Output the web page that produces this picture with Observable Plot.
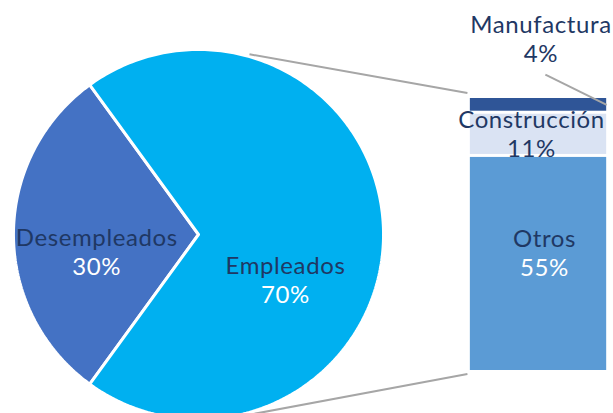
<!DOCTYPE html>
<html><head><meta charset="utf-8">
<script src="https://cdn.jsdelivr.net/npm/d3@7"></script>
<script src="https://cdn.jsdelivr.net/npm/@observablehq/plot@0.6"></script>
<style>body{margin:0;background:#fff} svg{display:block}</style>
</head><body><div id="chart"></div>
<script>
// ---- data ----
const pieCategories = ["Desempleados", "Empleados"];
const pieValues = [30, 70];
const barCategories = ["Otros", "Construcción", "Manufactura"]; // bottom to top
const barValues = [55, 11, 4];

// ---- styles ----
const colors = {
  "Desempleados": "#4472C4", "Empleados": "#00B0F0",
  "Otros": "#5B9BD5", "Construcción": "#DAE3F3", "Manufactura": "#2F5597"
};
const navy = "#1F3864";
const font = "Lato, 'Noto Sans', sans-serif";
const fs = 24;

// ---- layout (units = percentage points) ----
const W = 613, H = 413;
const L = { px: 275 / 70, cx: 198, cy: 234, R: 47.1, barX1: 69.2, barX2: 103.9, connAngle: 16 };
const xDomain = [-L.cx / L.px, (W - L.cx) / L.px];
const yDomain = [-(H - L.cy) / L.px, L.cy / L.px];
const rad = Math.PI / 180;

// pie slices
const arcs = d3.pie().sort(null).startAngle(216 * rad).endAngle(576 * rad)(pieValues);
const slices = arcs.map((a, i) => {
  const pts = [{x: 0, y: 0}];
  const n = Math.max(2, Math.ceil((a.endAngle - a.startAngle) / rad));
  for (let k = 0; k <= n; k++) {
    const t = a.startAngle + (a.endAngle - a.startAngle) * k / n;
    pts.push({x: L.R * Math.sin(t), y: L.R * Math.cos(t)});
  }
  pts.push({x: 0, y: 0});
  return {name: pieCategories[i], value: pieValues[i], pts, mid: (a.startAngle + a.endAngle) / 2};
});
const pieLabelLayout = {"Desempleados": {r: 0.55, dy: 25.5, pct: "white"}, "Empleados": {r: 0.47, dy: 54, pct: "white"}};
const pieLabels = slices.map(s => {
  const lay = pieLabelLayout[s.name];
  return {name: s.name, pct: s.value + "%", x: lay.r * L.R * Math.sin(s.mid), y: lay.r * L.R * Math.cos(s.mid), dy: lay.dy, pctColor: lay.pct};
});

// stacked bar
const total = d3.sum(barValues);
const base = -total / 2;
const cum = d3.cumsum(barValues);
const bars = barCategories.map((c, i) => ({name: c, value: barValues[i], y1: base + cum[i] - barValues[i], y2: base + cum[i]}));
const barTop = base + total, barBottom = base;
const barMidX = (L.barX1 + L.barX2) / 2;
const barLabelLayout = {
  "Otros": {dx: 6, dy: -2, pctColor: "white"},
  "Construcción": {dx: -7, dy: 8.5, pctColor: navy}
};
const inside = bars.filter(b => barLabelLayout[b.name]).map(b => ({...b, ...barLabelLayout[b.name], pct: b.value + "%", x: barMidX, y: (b.y1 + b.y2) / 2}));
const manu = bars.find(b => b.name === "Manufactura");
const outside = [{name: manu.name, pct: manu.value + "%", x: barMidX, y: barTop, dx: 2.5, dy: -49.5, pctColor: navy}];
const leader = [{x1: barMidX + 1.75, y1: barTop + 5.7, x2: L.barX2, y2: (manu.y1 + manu.y2) / 2}];

// connector lines from pie to bar
const ca = L.connAngle * rad;
const connectors = [
  {x1: L.R * Math.sin(ca), y1: L.R * Math.cos(ca) + 0.6, x2: L.barX1 - 0.75, y2: barTop + 1},
  {x1: L.R * Math.sin(Math.PI - ca), y1: L.R * Math.cos(Math.PI - ca) - 0.6, x2: L.barX1 - 0.75, y2: barBottom - 0.5}
];

const textOpts = {fontFamily: font, fontSize: fs, textAnchor: "middle", lineAnchor: "bottom"};

const marks = [];
slices.forEach(s => marks.push(Plot.line(s.pts, {x: "x", y: "y", fill: colors[s.name], stroke: "white", strokeWidth: 3, strokeLinejoin: "miter"})));
marks.push(Plot.link(connectors, {x1: "x1", y1: "y1", x2: "x2", y2: "y2", stroke: "#A6A6A6", strokeWidth: 2}));
marks.push(Plot.rect(bars, {x1: () => L.barX1, x2: () => L.barX2, y1: "y1", y2: "y2", fill: "name", insetTop: 1.5, insetBottom: 1.5}));
marks.push(Plot.link(leader, {x1: "x1", y1: "y1", x2: "x2", y2: "y2", stroke: "#A6A6A6", strokeWidth: 2}));

const addLabel = (p, dx, dy) => {
  marks.push(Plot.text([p], {...textOpts, x: "x", y: "y", text: "name", fill: navy, dx, dy: dy - 14.5}));
  marks.push(Plot.text([p], {...textOpts, x: "x", y: "y", text: "pct", fill: p.pctColor, dx, dy: dy + 14.5}));
};
pieLabels.forEach(p => addLabel(p, 0, p.dy));
inside.forEach(b => addLabel(b, b.dx, b.dy));
outside.forEach(o => addLabel(o, o.dx, o.dy));

const chart = Plot.plot({
  width: W, height: H, margin: 0,
  style: {background: "white", fontFamily: font, letterSpacing: "0.6px", overflow: "visible"},
  x: {domain: xDomain, axis: null},
  y: {domain: yDomain, axis: null},
  color: {domain: Object.keys(colors), range: Object.values(colors)},
  marks
});
document.getElementById("chart").appendChild(chart);
</script>
</body></html>
